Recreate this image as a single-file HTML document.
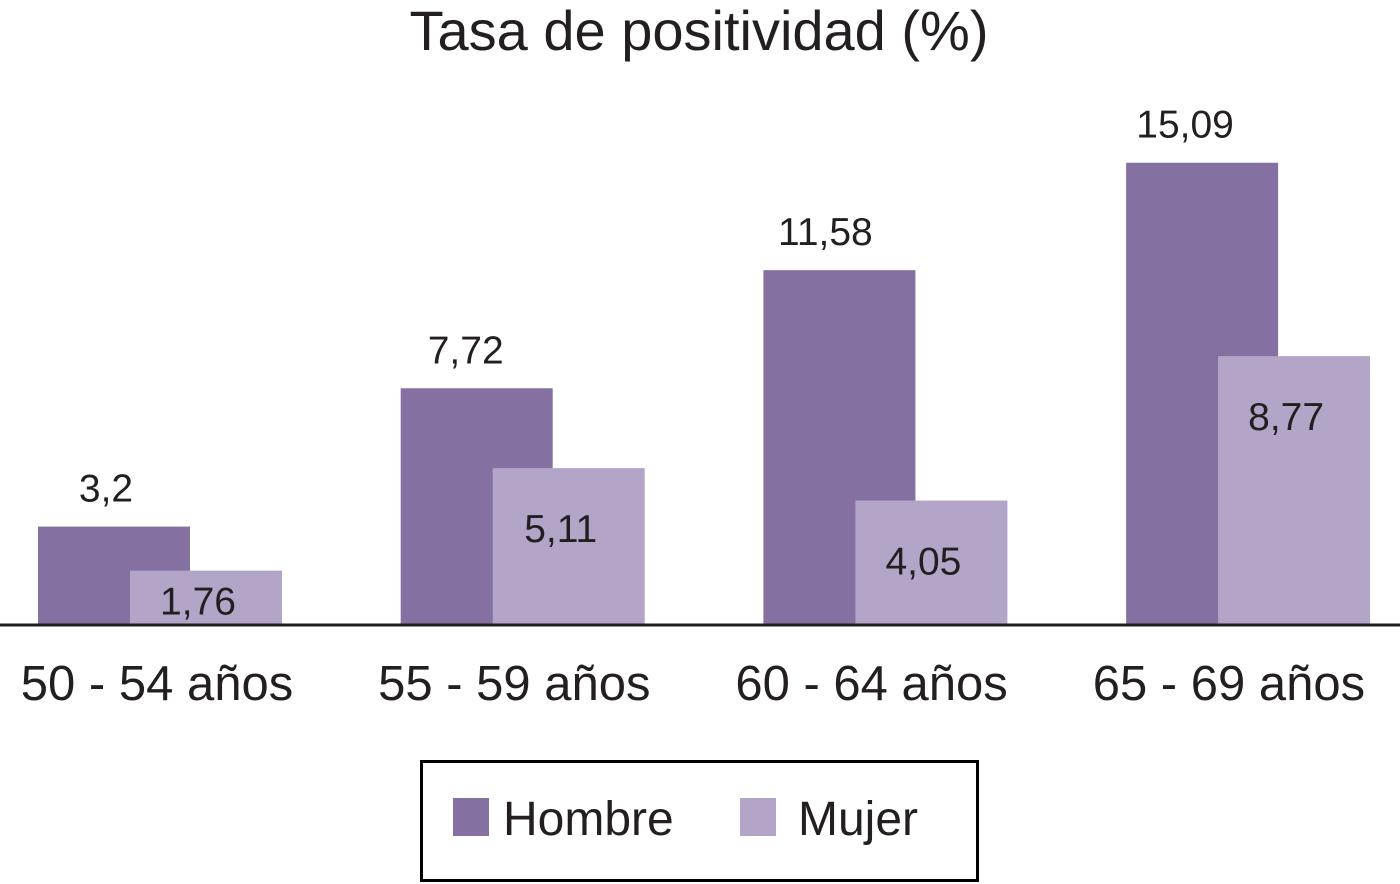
<!DOCTYPE html>
<html><head><meta charset="utf-8"><style>
html,body{margin:0;padding:0;background:#fff;}
svg{display:block;font-family:"Liberation Sans",sans-serif;}
</style></head><body>
<svg id="chart" width="1400" height="884">
<text x="699" y="50" font-size="56" text-anchor="middle" fill="#231f20">Tasa de positividad (%)</text>
<g id="bars"></g>
<line x1="0" y1="625" x2="1400" y2="625" stroke="#231f20" stroke-width="3"/>
<g>
<rect x="421.5" y="761.5" width="556" height="119" fill="none" stroke="#000" stroke-width="3"/>
<rect x="453" y="798" width="36" height="38" fill="#8470a1"/>
<text x="503" y="835" font-size="48" fill="#231f20">Hombre</text>
<rect x="740" y="798" width="36" height="38" fill="#b3a5c8"/>
<text x="798" y="835" font-size="48" fill="#231f20">Mujer</text>
</g>
</svg>
<script>
const categories = ["50 - 54 años","55 - 59 años","60 - 64 años","65 - 69 años"];
const hombre = [3.2, 7.72, 11.58, 15.09];
const mujer = [1.76, 5.11, 4.05, 8.77];
const hombreLabels = ["3,2","7,72","11,58","15,09"];
const mujerLabels = ["1,76","5,11","4,05","8,77"];

const NS="http://www.w3.org/2000/svg";
const base=624.5, scale=30.6;
const y=v=>base-v*scale;
const gx=i=>38+i*362.7;
const bw=152, off=92;
const g=document.getElementById('bars');
function mk(t,a){const e=document.createElementNS(NS,t);for(const k in a)e.setAttribute(k,a[k]);g.appendChild(e);return e;}
categories.forEach((c,i)=>{
  const x0=gx(i);
  let r=mk('rect',{x:x0,y:y(hombre[i]),width:bw,height:base-y(hombre[i]),fill:'#8470a1'});
  
  
  const hm=base-y(mujer[i]);
  let r2=mk('rect',{x:x0+off,y:y(mujer[i]),width:bw,height:hm,fill:'#b3a5c8'});
  
  
  let t=mk('text',{x:x0+bw/2-8-i*3,y:y(hombre[i])-25,'font-size':39,'text-anchor':'middle',fill:'#231f20'});
  t.textContent=hombreLabels[i];
  
  
  const cy=y(mujer[i])+Math.min(60,hm/2+3);
  let t2=mk('text',{x:x0+off+bw/2-8,y:cy+14,'font-size':39,'text-anchor':'middle',fill:'#231f20'});
  t2.textContent=mujerLabels[i];
  
  
  let l=mk('text',{x:157+i*357.3,y:700,'font-size':49,'text-anchor':'middle',fill:'#231f20'});
  l.textContent=c;
  
  
});
</script>
</body></html>
